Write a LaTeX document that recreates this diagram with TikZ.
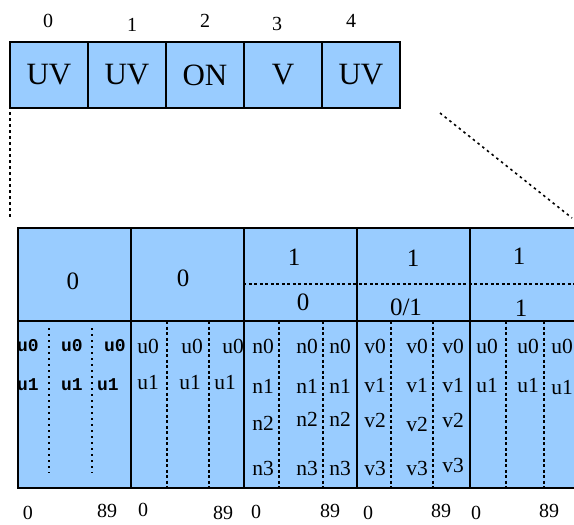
\documentclass[tikz,border=0pt]{standalone}
\usepackage{fontspec}
\setmainfont{Liberation Serif}
\newfontfamily\pixfont{Liberation Mono}
\definecolor{cellblue}{RGB}{153,204,255}

\begin{document}
\begin{tikzpicture}[x=1pt, y=-1pt,
  slot/.style={rectangle, draw=black, fill=cellblue, line width=1.1pt,
               minimum width=78pt, minimum height=66pt, inner sep=0pt,
               font=\fontsize{31}{34}\selectfont},
  idx/.style={inner sep=0pt, font=\fontsize{20}{22}\selectfont},
  head/.style={rectangle, draw=black, fill=cellblue, line width=1.5pt,
               minimum width=113pt, minimum height=93pt, inner sep=0pt},
  body/.style={head, minimum height=167pt},
  hl/.style={inner sep=0pt, font=\fontsize{25}{28}\selectfont},
  cl/.style={inner sep=0pt, font=\fontsize{21.5}{24}\selectfont},
  pl/.style={inner sep=0pt, font=\pixfont\bfseries\fontsize{18}{20}\selectfont},
  sep/.style={line width=1.5pt, dash pattern=on 3pt off 2.5pt},
  fsep/.style={line width=1.1pt, dash pattern=on 2pt off 4pt},
  zoomline/.style={line width=1.6pt, dash pattern=on 2.5pt off 3.5pt}]
  \useasboundingbox (0,0) rectangle (574,525);
  \clip (0,0) rectangle (574,525);
  % record of five slots
  \node[slot] (s0) at (49,75)  {UV};
  \node[slot] (s1) at (127,75) {UV};
  \node[slot] (s2) at (205,75) {ON};
  \node[slot] (s3) at (283,75) {V};
  \node[slot] (s4) at (361,75) {UV};
  \node[idx] (i0) at (48,21)  {0};
  \node[idx] (i1) at (132,25) {1};
  \node[idx] (i2) at (205,21) {2};
  \node[idx] (i3) at (277,24) {3};
  \node[idx] (i4) at (351,21) {4};
  % zoom lines
  \coordinate (zl1) at (10,112);
  \coordinate (zl2) at (10,218);
  \coordinate (zr1) at (440,113);
  \coordinate (zr2) at (572,218);
  \draw[zoomline] (zl1) -- (zl2);
  \draw[zoomline] (zr1) -- (zr2);
  % expanded table
  \node[head] (h1) at (74.5,274.5)  {};
  \node[head] (h2) at (187.5,274.5) {};
  \node[head] (h3) at (300.5,274.5) {};
  \node[head] (h4) at (413.5,274.5) {};
  \node[head] (h5) at (526.5,274.5) {};
  \node[body] (d1) at (74.5,404.5)  {};
  \node[body] (d2) at (187.5,404.5) {};
  \node[body] (d3) at (300.5,404.5) {};
  \node[body] (d4) at (413.5,404.5) {};
  \node[body] (d5) at (526.5,404.5) {};
  \draw[sep] (h3.west |- 0,284) -- (574,284);
  \foreach \x in {49,92}
    \draw[fsep] (\x,328) -- (\x,473);
  \foreach \x in {167,209,279,323,391,433,506,544}
    \draw[sep] (\x,321) -- (\x,488);
  % header labels
  \node[hl] (t1)  at (73,281)  {0};
  \node[hl] (t2)  at (183,278) {0};
  \node[hl] (t3a) at (294,257) {1};
  \node[hl] (t3b) at (303,302) {0};
  \node[hl] (t4a) at (413,258) {1};
  \node[hl] (t4b) at (406,307) {0/1};
  \node[hl] (t5a) at (519,256) {1};
  \node[hl] (t5b) at (521,308) {1};
  % cell entries
  \foreach \t/\x/\y [count=\k] in {u0/28/346, u0/72/346, u0/115/346,
      u1/28/385, u1/72/385, u1/108/385}
    \node[pl] (p\k) at (\x,\y) {\t};
  \foreach \t/\x/\y [count=\k] in {u0/148/346, u0/192/346, u0/233/346,
      u1/148/383, u1/190/383, u1/225/383,
      n0/263/346, n0/307/346, n0/340/346, n1/263/386, n1/307/386, n1/340/386,
      n2/263/423, n2/307/419, n2/340/419, n3/263/468, n3/307/468, n3/340/468,
      v0/375/346, v0/417/346, v0/453/346, v1/375/386, v1/417/386, v1/453/386,
      v2/375/420, v2/417/424, v2/453/420, v3/375/468, v3/417/468, v3/453/465,
      u0/487/346, u0/528/346, u0/562/346, u1/487/386, u1/528/386, u1/562/388}
    \node[cl] (c\k) at (\x,\y) {\t};
  % offsets below
  \foreach \t/\x/\y [count=\k] in {0/28/513, 89/107/511, 0/143/510, 89/223/513,
      0/256/512, 89/330/511, 0/368/513, 89/441/511, 0/476/513, 89/549/511}
    \node[idx] (o\k) at (\x,\y) {\t};
\end{tikzpicture}
\end{document}
